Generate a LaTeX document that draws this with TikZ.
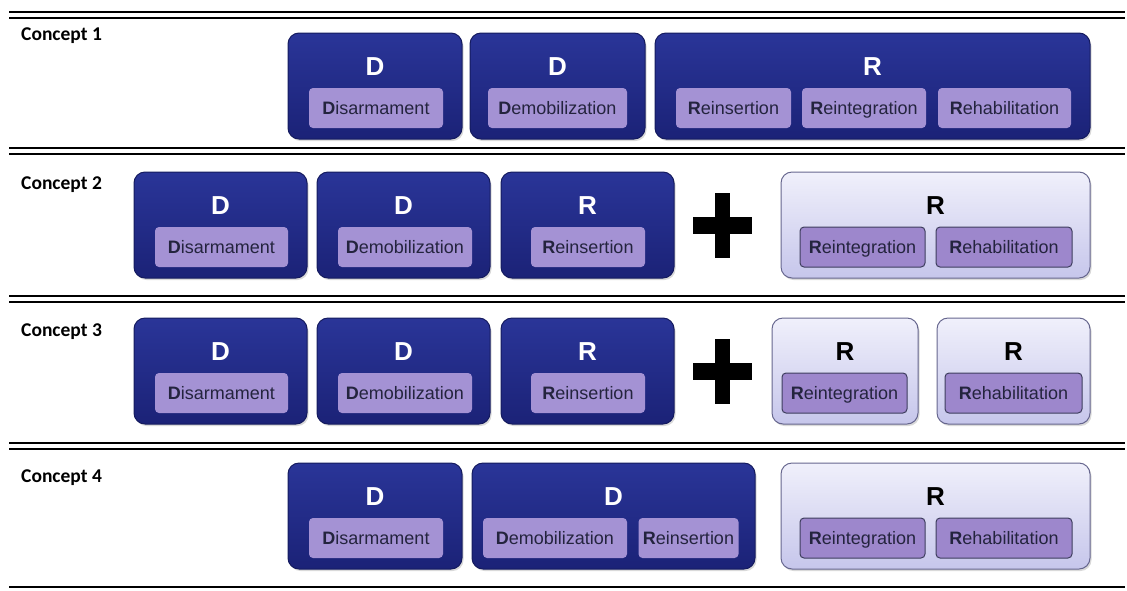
\documentclass[tikz,border=0pt]{standalone}
\usepackage{fontspec}
\setmainfont{Liberation Sans}
\newfontfamily\lblfont{Carlito}
\usetikzlibrary{shadows}

\definecolor{navyT}{HTML}{2A3598}
\definecolor{navyD}{HTML}{1B2277}
\definecolor{navyB}{HTML}{151B5F}
\definecolor{paleT}{HTML}{F0F0FB}
\definecolor{paleD}{HTML}{C6C6EB}
\definecolor{paleB}{HTML}{66668E}
\definecolor{lilac}{HTML}{A492D4}
\definecolor{lilacL}{HTML}{9D87CC}
\definecolor{lilacB}{HTML}{3E3E5E}
\definecolor{ink}{HTML}{24243E}

\begin{document}
\begin{tikzpicture}[x=1pt,y=-1pt,
  blk/.style={draw=navyB,line width=1pt,rounded corners=11pt,top color=navyT,bottom color=navyD,
    minimum height=106pt,inner sep=0pt,drop shadow={opacity=0.3,shadow xshift=1.5pt,shadow yshift=-2pt}},
  blkL/.style={blk,draw=paleB,top color=paleT,bottom color=paleD},
  itm/.style={fill=lilac,rounded corners=4pt,minimum height=40pt,inner sep=0pt,text=ink,
    text height=13pt,text depth=0pt,font=\fontsize{18}{20}\selectfont},
  itmL/.style={itm,draw=lilacB,line width=1pt,fill=lilacL},
  ltr/.style={text=white,inner sep=0pt,font=\bfseries\fontsize{26}{28}\selectfont},
  ltrL/.style={ltr,text=black},
  concept/.style={anchor=base west,inner sep=0pt,font=\lblfont\bfseries\fontsize{19.5}{22}\selectfont},
  sep/.style={line width=2pt}]
\useasboundingbox (0,0) rectangle (1127,590);
\def\ya{33};
\def\yb{172};
\def\yc{318};
\def\yd{463};
\def\hb{53};
\def\hl{34};
\def\hi{75};

% separators
\draw[sep] (9,11.5) -- (1125,11.5);
\draw[sep] (9,17.5) -- (1125,17.5);
\draw[sep] (9,148) -- (1125,148);
\draw[sep] (9,154) -- (1125,154);
\draw[sep] (9,295.5) -- (1125,295.5);
\draw[sep] (9,301.5) -- (1125,301.5);
\draw[sep] (9,443) -- (1125,443);
\draw[sep] (9,449) -- (1125,449);
\draw[sep] (9,587) -- (1125,587);

\node[concept] (c1) at (21,40) {Concept 1};
\node[concept] (c2) at (21,189) {Concept 2};
\node[concept] (c3) at (21,336) {Concept 3};
\node[concept] (c4) at (21,482) {Concept 4};

% concept 1
\node[blk,minimum width=174pt] (D1a) at (375,\ya+\hb) {};
\node[blk,minimum width=175pt] (D1b) at (557.5,\ya+\hb) {};
\node[blk,minimum width=435pt] (R1) at (872.5,\ya+\hb) {};
\node[ltr] (D1a-l) at (375,\ya+\hl) {D};
\node[ltr] (D1b-l) at (557.5,\ya+\hl) {D};
\node[ltr] (R1-l) at (872.5,\ya+\hl) {R};
\node[itm,minimum width=134pt] (dis1) at (376,\ya+\hi) {\textbf{D}isarmament};
\node[itm,minimum width=139pt] (dem1) at (557.5,\ya+\hi) {\textbf{D}emobilization};
\node[itm,minimum width=115pt] (rins1) at (733.5,\ya+\hi) {\textbf{R}einsertion};
\node[itm,minimum width=124pt] (rint1) at (864,\ya+\hi) {\textbf{R}eintegration};
\node[itm,minimum width=133pt] (rhab1) at (1004.5,\ya+\hi) {\textbf{R}ehabilitation};

% concept 2
\node[blk,minimum width=173pt] (D2a) at (220.5,\yb+\hb) {};
\node[blk,minimum width=173pt] (D2b) at (403.5,\yb+\hb) {};
\node[blk,minimum width=173pt] (R2a) at (587.5,\yb+\hb) {};
\node[blkL,minimum width=309pt] (R2b) at (935.5,\yb+\hb) {};
\node[ltr] (D2a-l) at (220.5,\yb+\hl) {D};
\node[ltr] (D2b-l) at (403.5,\yb+\hl) {D};
\node[ltr] (R2a-l) at (587.5,\yb+\hl) {R};
\node[ltrL] (R2b-l) at (935.5,\yb+\hl) {R};
\node[itm,minimum width=133pt] (dis2) at (221.5,\yb+\hi) {\textbf{D}isarmament};
\node[itm,minimum width=134pt] (dem2) at (405,\yb+\hi) {\textbf{D}emobilization};
\node[itm,minimum width=114pt] (rins2) at (588,\yb+\hi) {\textbf{R}einsertion};
\node[itmL,minimum width=125pt] (rint2) at (862.5,\yb+\hi) {\textbf{R}eintegration};
\node[itmL,minimum width=136pt] (rhab2) at (1004,\yb+\hi) {\textbf{R}ehabilitation};
\coordinate (P2) at (722.5,\yb+\hb);
\fill[shift={(P2)}] (-29.5,-8.5) rectangle (29.5,8.5);
\fill[shift={(P2)}] (-7.5,-32.5) rectangle (7.5,32.5);

% concept 3
\node[blk,minimum width=173pt] (D3a) at (220.5,\yc+\hb) {};
\node[blk,minimum width=173pt] (D3b) at (403.5,\yc+\hb) {};
\node[blk,minimum width=173pt] (R3a) at (587.5,\yc+\hb) {};
\node[blkL,minimum width=146pt] (R3b) at (845,\yc+\hb) {};
\node[blkL,minimum width=153pt] (R3c) at (1013.5,\yc+\hb) {};
\node[ltr] (D3a-l) at (220.5,\yc+\hl) {D};
\node[ltr] (D3b-l) at (403.5,\yc+\hl) {D};
\node[ltr] (R3a-l) at (587.5,\yc+\hl) {R};
\node[ltrL] (R3b-l) at (845,\yc+\hl) {R};
\node[ltrL] (R3c-l) at (1013.5,\yc+\hl) {R};
\node[itm,minimum width=133pt] (dis3) at (221.5,\yc+\hi) {\textbf{D}isarmament};
\node[itm,minimum width=134pt] (dem3) at (405,\yc+\hi) {\textbf{D}emobilization};
\node[itm,minimum width=114pt] (rins3) at (588,\yc+\hi) {\textbf{R}einsertion};
\node[itmL,minimum width=125pt] (rint3) at (844.5,\yc+\hi) {\textbf{R}eintegration};
\node[itmL,minimum width=137pt] (rhab3) at (1013.5,\yc+\hi) {\textbf{R}ehabilitation};
\coordinate (P3) at (722.5,\yc+\hb);
\fill[shift={(P3)}] (-29.5,-8.5) rectangle (29.5,8.5);
\fill[shift={(P3)}] (-7.5,-32.5) rectangle (7.5,32.5);

% concept 4
\node[blk,minimum width=174pt] (D4a) at (375,\yd+\hb) {};
\node[blk,minimum width=283pt] (D4b) at (613.5,\yd+\hb) {};
\node[blkL,minimum width=309pt] (R4) at (935.5,\yd+\hb) {};
\node[ltr] (D4a-l) at (375,\yd+\hl) {D};
\node[ltr] (D4b-l) at (613.5,\yd+\hl) {D};
\node[ltrL] (R4-l) at (935.5,\yd+\hl) {R};
\node[itm,minimum width=134pt] (dis4) at (376,\yd+\hi) {\textbf{D}isarmament};
\node[itm,minimum width=144pt] (dem4) at (555,\yd+\hi) {\textbf{D}emobilization};
\node[itm,minimum width=100pt] (rins4) at (688.5,\yd+\hi) {\textbf{R}einsertion};
\node[itmL,minimum width=125pt] (rint4) at (862.5,\yd+\hi) {\textbf{R}eintegration};
\node[itmL,minimum width=136pt] (rhab4) at (1004,\yd+\hi) {\textbf{R}ehabilitation};
\end{tikzpicture}
\end{document}
